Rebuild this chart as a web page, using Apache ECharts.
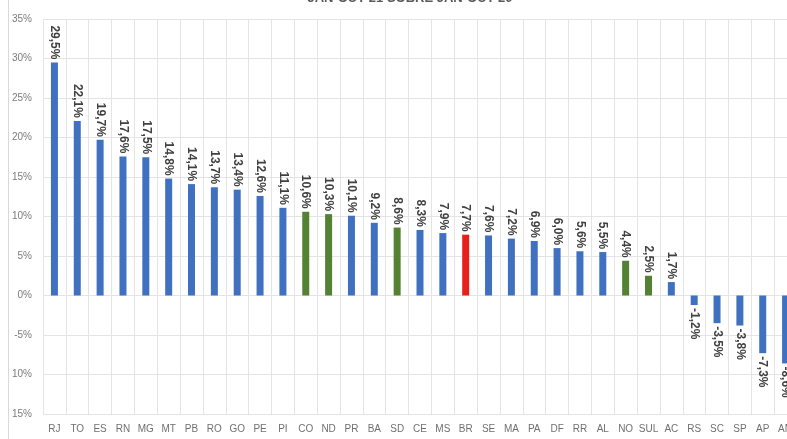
<!DOCTYPE html>
<html>
<head>
<meta charset="utf-8">
<script src="https://cdn.jsdelivr.net/npm/echarts@6/dist/echarts.min.js"></script>
<style>
  html, body { margin: 0; padding: 0; background: #fff; overflow: hidden; }
  /* o gráfico original aparece cortado na direita */
  #chart { width: 797px; height: 439px; }
</style>
</head>
<body>
<div id="chart"></div>
<script>
// categorias (UF / regiões) e variação jan-out 21 sobre jan-out 20
var categorias = ['RJ', 'TO', 'ES', 'RN', 'MG', 'MT', 'PB', 'RO', 'GO', 'PE', 'PI', 'CO', 'ND', 'PR', 'BA', 'SD', 'CE', 'MS', 'BR', 'SE', 'MA', 'PA', 'DF', 'RR', 'AL', 'NO', 'SUL', 'AC', 'RS', 'SC', 'SP', 'AP', 'AM'];
var variacao = [29.5, 22.1, 19.7, 17.6, 17.5, 14.8, 14.1, 13.7, 13.4, 12.6, 11.1, 10.6, 10.3, 10.1, 9.2, 8.6, 8.3, 7.9, 7.7, 7.6, 7.2, 6.9, 6.0, 5.6, 5.5, 4.4, 2.5, 1.7, -1.2, -3.5, -3.8, -7.3, -8.6];
// regiões em verde, Brasil em vermelho
var regioes = ['CO', 'ND', 'SD', 'NO', 'SUL'];
var total = ['BR'];
// rótulos do eixo y como aparecem no gráfico
var yTicks = [-15, -10, -5, 0, 5, 10, 15, 20, 25, 30, 35];
var yTickLabels = ['15%', '10%', '-5%', '0%', '5%', '10%', '15%', '20%', '25%', '30%', '35%'];

var AZUL = '#4070c0', VERDE = '#548235', VERMELHO = '#e8201c';

var chart = echarts.init(document.getElementById('chart'));

var dados = variacao.map(function (v, i) {
    var cat = categorias[i];
    var cor = AZUL;
    if (regioes.indexOf(cat) >= 0) cor = VERDE;
    if (total.indexOf(cat) >= 0) cor = VERMELHO;
    var item = { value: v, itemStyle: { color: cor } };
    if (v < 0) {
        item.label = { position: 'bottom', align: 'left' };
    }
    return item;
});

var option = {
    animation: false,
    title: {
        text: 'JAN-OUT 21 SOBRE JAN-OUT 20',
        left: 405,
        top: -13,
        textAlign: 'center',
        textStyle: { fontSize: 13, fontWeight: 'bold', color: '#595959', fontFamily: 'Liberation Sans' }
    },
    graphic: [{
        type: 'line',
        shape: { x1: 8.5, y1: 0, x2: 8.5, y2: 439 },
        style: { stroke: '#d9d9d9', lineWidth: 1 }
    }],
    grid: { left: 43, right: 0, top: 19, bottom: 25 },
    xAxis: {
        type: 'category',
        data: categorias,
        axisLine: { show: false },
        axisTick: { show: false },
        splitLine: { show: true, lineStyle: { color: '#e4e4e4' } },
        axisLabel: {
            interval: 0, margin: 10, fontSize: 10,
            color: '#707070', fontFamily: 'Liberation Sans'
        }
    },
    yAxis: {
        type: 'value',
        min: -15, max: 35, interval: 5,
        axisLine: { show: false },
        axisTick: { show: false },
        splitLine: { lineStyle: { color: '#e4e4e4' } },
        axisLabel: {
            margin: 11, fontSize: 10, color: '#7a7a7a', fontFamily: 'Liberation Sans',
            formatter: function (v) {
                var i = yTicks.indexOf(v);
                return i >= 0 ? yTickLabels[i] : '';
            }
        }
    },
    series: [{
        type: 'bar',
        data: dados,
        barWidth: 7,
        label: {
            show: true,
            position: 'top',
            rotate: -90,
            align: 'right',
            verticalAlign: 'middle',
            distance: 3,
            fontSize: 12,
            fontWeight: 'bold',
            color: '#404040',
            fontFamily: 'Liberation Sans',
            formatter: function (p) {
                return p.value.toFixed(1).replace('.', ',') + '%';
            }
        }
    }]
};

chart.setOption(option);
</script>
</body>
</html>
